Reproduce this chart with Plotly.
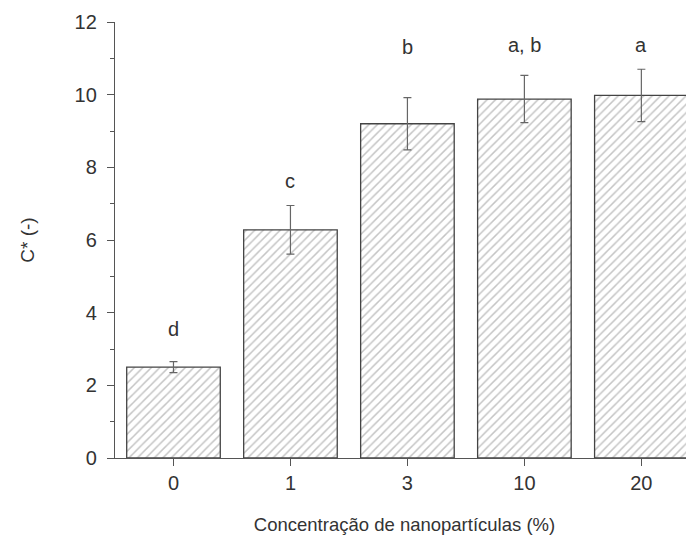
import plotly.graph_objects as go

categories = ["0", "1", "3", "10", "20"]
values = [2.5, 6.28, 9.2, 9.88, 9.98]
errors = [0.15, 0.67, 0.72, 0.65, 0.72]
letters = ["d", "c", "b", "a, b", "a"]
letter_y = [3.55, 7.63, 11.3, 11.38, 11.38]
y_ticks = [0, 2, 4, 6, 8, 10, 12]
y_minor = [1, 3, 5, 7, 9, 11]

FONT = "Liberation Sans, Arial, sans-serif"

fig = go.Figure()
fig.add_trace(go.Bar(
    x=categories, y=values, width=0.8,
    marker=dict(color="white", line=dict(color="#444", width=1.3),
                pattern=dict(shape="/", fgcolor="#8a8a8a", bgcolor="white", size=6, solidity=0.25)),
    error_y=dict(type="data", array=errors, visible=True, color="#666", thickness=1.2, width=4),
    showlegend=False,
))

for i, (t, yy) in enumerate(zip(letters, letter_y)):
    fig.add_annotation(x=i, y=yy, xref="x", yref="y", text=t, showarrow=False,
                       yanchor="middle", xanchor="center",
                       font=dict(size=20, color="#333", family=FONT))

fig.update_layout(
    width=686, height=540,
    margin=dict(l=107, r=0, t=14, b=90),
    paper_bgcolor="white", plot_bgcolor="white",
    font=dict(family=FONT, size=20, color="#333"),
)
fig.update_xaxes(
    type="category", range=[-0.5, 4.45], automargin=False,
    showline=True, linecolor="#555", linewidth=1.3,
    ticks="outside", ticklen=7, tickcolor="#555", tickwidth=1.3,
    tickfont=dict(size=20),
    minor=dict(ticks="outside", ticklen=4, tickcolor="#555", showgrid=False),
    showgrid=False, zeroline=False,
    title=dict(text="Concentração de nanopartículas (%)", font=dict(size=18.5), standoff=24),
)
fig.update_yaxes(
    range=[0, 12], tickvals=y_ticks, automargin=False,
    showline=True, linecolor="#555", linewidth=1.3,
    ticks="outside", ticklen=7, tickcolor="#555", tickwidth=1.3,
    tickfont=dict(size=20), ticklabelstandoff=6,
    minor=dict(tickvals=y_minor, ticks="outside", ticklen=4, tickcolor="#555", showgrid=False),
    showgrid=False, zeroline=False,
    title=dict(text="C* (-)", font=dict(size=19), standoff=34),
)

fig.write_html("out.html")
